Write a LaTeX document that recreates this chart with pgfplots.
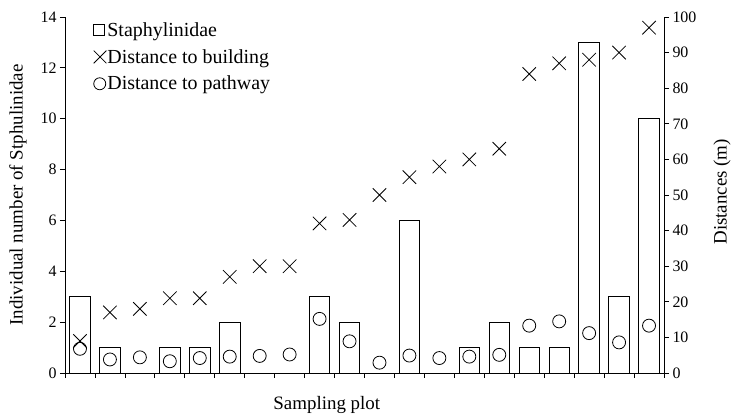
\documentclass[border=0pt]{standalone}
\usepackage{fontspec}
\setmainfont{Liberation Serif}
\usepackage{pgfplots}
\pgfplotsset{compat=1.18}
\begin{document}
\begin{tikzpicture}
\pgfplotsset{
  every axis/.append style={
    scale only axis, width=599bp, height=356bp,
    xmin=0.5, xmax=20.5,
    tick align=outside, major tick length=5bp,
    /pgf/number format/assume math mode=true,
    tick label style={font=\fontsize{16}{19}\selectfont},
    label style={font=\fontsize{19}{22}\selectfont},
    axis line style={line width=0.8bp},
    tick style={line width=0.8bp, black},
  }
}
\begin{axis}[
  axis y line*=left, axis x line*=bottom,
  ymin=0, ymax=14, ytick={0,2,...,14},
  xtick={0.5,1.5,...,20.5}, xticklabels={},
  ylabel={Individual number of Stphulinidae},
  ylabel style={at={(axis description cs:-0.0785,0.5)}, anchor=center},
  xlabel={Sampling plot},
  xlabel style={at={(axis description cs:0.437,-0.09)}, anchor=center},
]
\addplot[ybar, bar width=20.5bp, draw=black, fill=white, line width=0.8bp] coordinates {
(1,3) (2,1) (3,0) (4,1) (5,1) (6,2) (7,0) (8,0) (9,3) (10,2)
(11,0) (12,6) (13,0) (14,1) (15,2) (16,1) (17,1) (18,13) (19,3) (20,10)};
\end{axis}
\begin{axis}[
  axis y line*=right, axis x line=none,
  ymin=0, ymax=100, ytick={0,10,...,100},
  ylabel={Distances (m)},
  ylabel style={at={(axis description cs:1.0968,0.509)}, anchor=center},
  legend style={at={(0.047,0.988)}, anchor=north west, draw=none, fill=none,
    font=\fontsize{20}{23}\selectfont, row sep=9.5bp, inner sep=0pt,
    nodes={inner sep=1bp}},
  legend cell align=left,
]
\addlegendimage{legend image code/.code={\draw[line width=0.8bp] (0bp,-5.5bp) rectangle (11bp,5.5bp);}}
\addlegendentry{Staphylinidae}
\addplot[only marks, mark=x, mark size=9.5bp, line width=0.8bp,
  legend image code/.code={\draw[only marks, mark=x, mark size=9bp, line width=0.8bp] plot coordinates {(6.3bp,0bp)};}]
coordinates {
(1,9) (2,17) (3,18) (4,21) (5,21) (6,27) (7,30) (8,30) (9,42) (10,43)
(11,50) (12,55) (13,58) (14,60) (15,63) (16,84) (17,87) (18,88) (19,90) (20,97)};
\addlegendentry{Distance to building}
\addplot[only marks, mark=o, mark size=6.5bp, line width=0.8bp,
  legend image code/.code={\draw[only marks, mark=o, mark size=6bp, line width=0.8bp] plot coordinates {(6bp,0bp)};}]
coordinates {
(1,6.8) (2,3.8) (3,4.4) (4,3.3) (5,4.2) (6,4.6) (7,4.8) (8,5.2) (9,15.2) (10,8.9)
(11,2.9) (12,4.9) (13,4.2) (14,4.6) (15,5.1) (16,13.3) (17,14.5) (18,11.2) (19,8.6) (20,13.3)};
\addlegendentry{Distance to pathway}
\end{axis}
\pgfresetboundingbox
\path[use as bounding box] (-65bp,-44bp) rectangle (666bp,373bp);
\end{tikzpicture}
\end{document}
